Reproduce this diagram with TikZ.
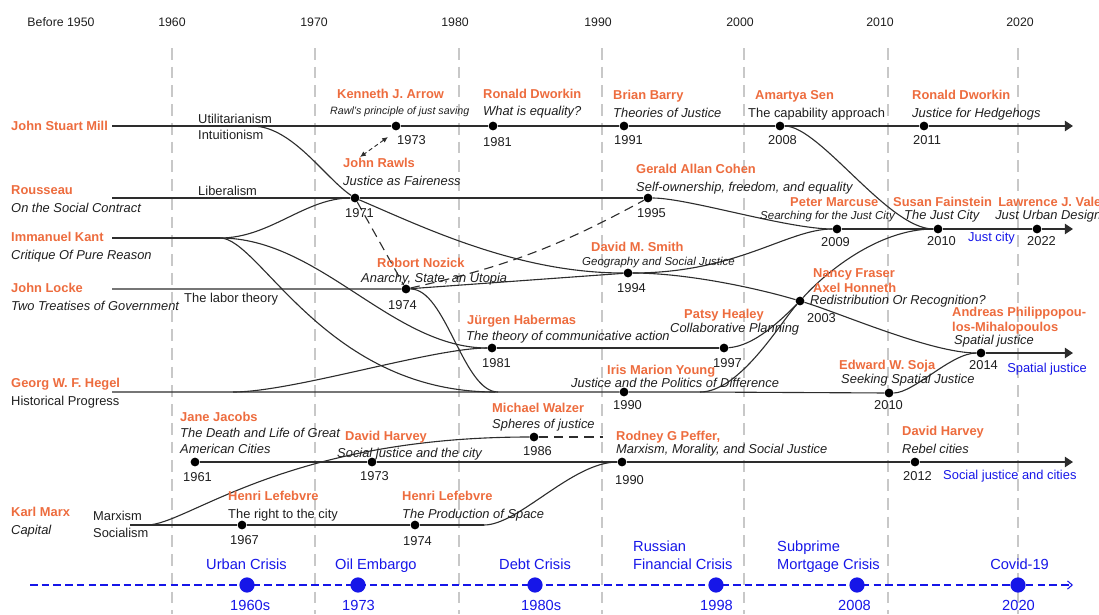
\documentclass[tikz,border=0pt]{standalone}
\usepackage{fontspec}
\setmainfont{Liberation Sans}
\usetikzlibrary{arrows.meta}
\definecolor{whoorange}{RGB}{237,108,62}
\definecolor{crisisblue}{RGB}{22,22,232}
\definecolor{inkgray}{RGB}{45,45,45}
\definecolor{gridgray}{RGB}{200,200,200}
\tikzset{
  dot/.style={circle, fill=black, minimum size=7.5pt, inner sep=0pt},
  bigdot/.style={circle, fill=crisisblue, minimum size=13pt, inner sep=0pt},
  txt/.style={anchor=west, inner sep=0pt, text depth=0pt, text height=7.9pt, text=black!88, font=\fontsize{11}{13}\selectfont},
  who/.style={txt, text=whoorange, font=\fontsize{11}{13}\selectfont\bfseries},
  work/.style={txt, font=\fontsize{11}{13}\selectfont\itshape},
  smallwork/.style={txt, text height=7pt, font=\fontsize{9.8}{12}\selectfont\itshape},
  tinywork/.style={txt, text height=6.5pt, font=\fontsize{9.1}{11}\selectfont\itshape},
  trend/.style={txt, text=crisisblue},
  crisis/.style={txt, text height=9pt, text=crisisblue, font=\fontsize{12.5}{15}\selectfont},
  decade/.style={inner sep=0pt, text=black!88, font=\fontsize{10.5}{12}\selectfont},
  tl/.style={draw=inkgray, line width=0.95pt},
  tlend/.style={tl, -{Triangle[length=7pt,width=9pt]}},
  gridline/.style={draw=gridgray, line width=2.2pt, dash pattern=on 10pt off 6pt},
  link/.style={tl, dash pattern=on 8pt off 5pt}
}
\begin{document}
\begin{tikzpicture}[x=0.03cm, y=-0.03cm]
  \useasboundingbox (0,0) rectangle (1099,614);

  % decades
  \foreach \x in {172,315,459,602,744,888,1018}
    \draw[gridline] (\x,48) -- (\x,614);
  \foreach \x/\t [count=\i] in {61/Before 1950,172/1960,314/1970,455/1980,598/1990,740/2000,880/2010,1020/2020}
    \node[decade] (dec\i) at (\x,22) {\t};

  % branch points and line ends
  \coordinate (millstart) at (112,126);
  \coordinate (millsplit) at (252,126);
  \coordinate (millend) at (1073,126);
  \coordinate (rousstart) at (112,198);
  \coordinate (kantstart) at (112,238);
  \coordinate (kantsplit) at (220,238);
  \coordinate (lockestart) at (112,289);
  \coordinate (hegelstart) at (112,392);
  \coordinate (hegelsplit) at (233,392);
  \coordinate (kantjoin) at (495,392);
  \coordinate (nozjoin) at (498,392);
  \coordinate (youngsplit) at (700,392);
  \coordinate (justend) at (1073,229);
  \coordinate (spatialend) at (1073,353);
  \coordinate (socialend) at (1073,462);
  \coordinate (marxstart) at (130,525);
  \coordinate (marxsplit) at (147,525);
  \coordinate (lefsplit) at (484,525);
  \coordinate (walzerend) at (603,437);
  \coordinate (kra) at (388,137);
  \coordinate (krb) at (360,157);
  \coordinate (crisisstart) at (30,585);
  \coordinate (crisisend) at (1073,585);

  % works
  \node[dot] (arrow73) at (396,126) {};
  \node[dot] (dworkin81) at (493,126) {};
  \node[dot] (barry91) at (624,126) {};
  \node[dot] (sen08) at (780,126) {};
  \node[dot] (dworkin11) at (924,126) {};
  \node[dot] (rawls71) at (355,198) {};
  \node[dot] (cohen95) at (648,198) {};
  \node[dot] (marcuse09) at (837,229) {};
  \node[dot] (fain10) at (938,229) {};
  \node[dot] (vale22) at (1037,229) {};
  \node[dot] (nozick74) at (406,289) {};
  \node[dot] (smith94) at (628,273) {};
  \node[dot] (fraser03) at (800,301) {};
  \node[dot] (haber81) at (492,348) {};
  \node[dot] (healey97) at (724,348) {};
  \node[dot] (andreas14) at (981,353) {};
  \node[dot] (young90) at (624,392) {};
  \node[dot] (soja10) at (889,393) {};
  \node[dot] (walzer86) at (534,437) {};
  \node[dot] (jacobs61) at (195,462) {};
  \node[dot] (harvey73) at (372,462) {};
  \node[dot] (peffer90) at (622,462) {};
  \node[dot] (harvey12) at (915,462) {};
  \node[dot] (lefebvre67) at (242,525) {};
  \node[dot] (lefebvre74) at (415,525) {};

  % straight lines
  \draw[tlend] (millstart) -- (millsplit) -- (arrow73) -- (dworkin81) -- (barry91) -- (sen08) -- (dworkin11) -- (millend);
  \draw[tl] (rousstart) -- (rawls71) -- (cohen95);
  \draw[tl] (kantstart) -- (kantsplit);
  \draw[tl] (lockestart) -- (nozick74) -- (smith94);
  \draw[tl] (haber81) -- (healey97);
  \draw[tl] (hegelstart) -- (hegelsplit) -- (young90) -- (youngsplit) -- (soja10);
  \draw[tlend] (marcuse09) -- (fain10) -- (vale22) -- (justend);
  \draw[tlend] (andreas14) -- (spatialend);
  \draw[tlend] (jacobs61) -- (harvey73) -- (peffer90) -- (harvey12) -- (socialend);
  \draw[tl] (marxstart) -- (marxsplit) -- (lefebvre67) -- (lefebvre74) -- (lefsplit);

  % influences
  \draw[tl] (millsplit) .. controls +(40,0) and +(-30,-20) .. (rawls71);
  \draw[tl] (rawls71) .. controls +(70,30) and +(-110,0) .. (smith94);
  \draw[tl] (kantsplit) .. controls +(50,0) and +(-50,0) .. (rawls71);
  \draw[tl] (kantsplit) .. controls +(100,0) and +(-100,0) .. (haber81);
  \draw[tl] (kantsplit) .. controls +(40,0) and +(-170,0) .. (kantjoin);
  \draw[tl] (hegelsplit) .. controls +(60,0) and +(-60,0) .. (haber81);
  \draw[tl] (nozick74) .. controls +(40,0) and +(-35,0) .. (nozjoin);
  \draw[tl] (cohen95) .. controls +(40,0) and +(-50,0) .. (marcuse09);
  \draw[tl] (smith94) .. controls +(110,0) and +(-50,0) .. (marcuse09);
  \draw[tl] (smith94) .. controls +(60,0) and +(-40,-12) .. (fraser03);
  \draw[tl] (fraser03) .. controls +(40,12) and +(-50,0) .. (andreas14);
  \draw[tl] (healey97) .. controls +(30,-2) and +(-20,20) .. (fraser03);
  \draw[tl] (youngsplit) .. controls +(40,0) and +(-20,22) .. (fraser03);
  \draw[tl] (fraser03) .. controls +(25,-28) and +(-60,0) .. (fain10);
  \draw[tl] (sen08) .. controls +(40,0) and +(-50,0) .. (fain10);
  \draw[tl] (soja10) .. controls +(25,0) and +(-30,0) .. (andreas14);
  \draw[tl] (lefsplit) .. controls +(35,0) and +(-50,0) .. (peffer90);
  \draw[tl] (marxsplit) .. controls +(40,0) and +(-250,0) .. (walzer86);
  \draw[link] (rawls71) -- (nozick74);
  \draw[link] (nozick74) to[bend right=8] (cohen95);
  \draw[link] (walzer86) -- (walzerend);
  \draw[tl, line width=0.8pt, dash pattern=on 3.5pt off 2.5pt, {Latex[length=5pt,width=4.5pt]}-{Latex[length=5pt,width=4.5pt]}] (kra) -- (krb);

  % thinkers
  \node[who] (millname) at (11,126) {John Stuart Mill};
  \node[who] (rousname) at (11,190) {Rousseau};
  \node[work] (rouswork) at (11,208) {On the Social Contract};
  \node[who] (kantname) at (11,237) {Immanuel Kant};
  \node[work] (kantwork) at (11,255) {Critique Of Pure Reason};
  \node[who] (lockename) at (11,288) {John Locke};
  \node[work] (lockework) at (11,306) {Two Treatises of Government};
  \node[who] (hegelname) at (11,383) {Georg W. F. Hegel};
  \node[txt] (hegelwork) at (11,401) {Historical Progress};
  \node[who] (marxname) at (11,512) {Karl Marx};
  \node[work] (marxwork) at (11,530) {Capital};
  \node[txt] (util) at (198,119) {Utilitarianism};
  \node[txt] (intu) at (198,135) {Intuitionism};
  \node[txt] (liber) at (198,191) {Liberalism};
  \node[txt] (labor) at (184,298) {The labor theory};
  \node[txt] (marxism) at (93,516) {Marxism};
  \node[txt] (social) at (93,533) {Socialism};

  \node[who] (arrowname) at (337,94) {Kenneth J. Arrow};
  \node[tinywork] (arrowwork) at (330,111) {Rawl's principle of just saving};
  \node[txt] (arrowyr) at (397,140) {1973};
  \node[who] (dw81name) at (483,94) {Ronald Dworkin};
  \node[work] (dw81work) at (483,111) {What is equality?};
  \node[txt] (dw81yr) at (483,142) {1981};
  \node[who] (barryname) at (613,95) {Brian Barry};
  \node[work] (barrywork) at (613,113) {Theories of Justice};
  \node[txt] (barryyr) at (614,140) {1991};
  \node[who] (senname) at (755,95) {Amartya Sen};
  \node[txt] (senwork) at (748,113) {The capability approach};
  \node[txt] (senyr) at (768,140) {2008};
  \node[who] (dw11name) at (912,95) {Ronald Dworkin};
  \node[work] (dw11work) at (912,113) {Justice for Hedgehogs};
  \node[txt] (dw11yr) at (913,140) {2011};
  \node[who] (rawlsname) at (343,163) {John Rawls};
  \node[work] (rawlswork) at (343,181) {Justice as Faireness};
  \node[txt] (rawlsyr) at (345,213) {1971};
  \node[who] (cohenname) at (636,169) {Gerald Allan Cohen};
  \node[work] (cohenwork) at (636,187) {Self-ownership, freedom, and equality};
  \node[txt] (cohenyr) at (637,213) {1995};
  \node[who] (marcname) at (790,202) {Peter Marcuse};
  \node[smallwork] (marcwork) at (760,215) {Searching for the Just City};
  \node[txt] (marcyr) at (821,242) {2009};
  \node[who] (fainname) at (893,202) {Susan Fainstein};
  \node[work] (fainwork) at (904,215) {The Just City};
  \node[txt] (fainyr) at (927,241) {2010};
  \node[who] (valename) at (998,202) {Lawrence J. Vale};
  \node[work] (valework) at (995,215) {Just Urban Design};
  \node[txt] (valeyr) at (1027,241) {2022};
  \node[trend] (justcity) at (968,237) {Just city};
  \node[who] (nozname) at (377,263) {Robort Nozick};
  \node[work] (nozwork) at (361,278) {Anarchy, State, an Utopia};
  \node[txt] (nozyr) at (388,305) {1974};
  \node[who] (smithname) at (591,247) {David M. Smith};
  \node[smallwork] (smithwork) at (582,261) {Geography and Social Justice};
  \node[txt] (smithyr) at (617,288) {1994};
  \node[who] (habername) at (467,320) {Jürgen Habermas};
  \node[work] (haberwork) at (466,336) {The theory of communicative action};
  \node[txt] (haberyr) at (482,363) {1981};
  \node[who] (healeyname) at (684,314) {Patsy Healey};
  \node[work] (healeywork) at (670,328) {Collaborative Planning};
  \node[txt] (healeyyr) at (713,363) {1997};
  \node[who] (frasername) at (813,273) {Nancy Fraser};
  \node[who] (honnethname) at (813,288) {Axel Honneth};
  \node[work] (fraserwork) at (810,300) {Redistribution Or Recognition?};
  \node[txt] (fraseryr) at (807,318) {2003};
  \node[who] (andreasname) at (952,312) {Andreas Philippopou-};
  \node[who] (andreasname2) at (952,327) {los-Mihalopoulos};
  \node[work] (andreaswork) at (954,340) {Spatial justice};
  \node[txt] (andreasyr) at (969,365) {2014};
  \node[trend] (spatial) at (1007,368) {Spatial justice};
  \node[who] (youngname) at (607,370) {Iris Marion Young};
  \node[work] (youngwork) at (571,383) {Justice and the Politics of Difference};
  \node[txt] (youngyr) at (613,405) {1990};
  \node[who] (sojaname) at (839,365) {Edward W. Soja};
  \node[work] (sojawork) at (841,379) {Seeking Spatial Justice};
  \node[txt] (sojayr) at (874,405) {2010};
  \node[who] (jacobsname) at (180,417) {Jane Jacobs};
  \node[work] (jacobswork) at (180,433) {The Death and Life of Great};
  \node[work] (jacobswork2) at (180,449) {American Cities};
  \node[txt] (jacobsyr) at (183,477) {1961};
  \node[who] (harv73name) at (345,436) {David Harvey};
  \node[work] (harv73work) at (337,453) {Social justice and the city};
  \node[txt] (harv73yr) at (360,476) {1973};
  \node[who] (walzername) at (492,408) {Michael Walzer};
  \node[work] (walzerwork) at (492,424) {Spheres of justice};
  \node[txt] (walzeryr) at (523,451) {1986};
  \node[who] (peffername) at (616,436) {Rodney G Peffer,};
  \node[work] (pefferwork) at (616,449) {Marxism, Morality, and Social Justice};
  \node[txt] (pefferyr) at (615,480) {1990};
  \node[who] (harv12name) at (902,431) {David Harvey};
  \node[work] (harv12work) at (902,449) {Rebel cities};
  \node[txt] (harv12yr) at (903,476) {2012};
  \node[trend] (socialcities) at (943,475) {Social justice and cities};
  \node[who] (lef67name) at (228,496) {Henri Lefebvre};
  \node[txt] (lef67work) at (228,514) {The right to the city};
  \node[txt] (lef67yr) at (230,540) {1967};
  \node[who] (lef74name) at (402,496) {Henri Lefebvre};
  \node[work] (lef74work) at (402,514) {The Production of Space};
  \node[txt] (lef74yr) at (403,541) {1974};

  % crises
  \draw[crisisblue, line width=0.9pt, dash pattern=on 6.5pt off 3.5pt, -{Straight Barb[length=4pt,width=7pt]}] (crisisstart) -- (crisisend);
  \foreach \x [count=\i] in {247,358,535,716,857,1018}
    \node[bigdot] (crisis\i) at (\x,585) {};
  \foreach \x/\y/\t [count=\i] in {206/564/Urban Crisis,335/564/Oil Embargo,499/564/Debt Crisis,633/546/Russian,633/564/Financial Crisis,777/546/Subprime,777/564/Mortgage Crisis,990/564/Covid-19}
    \node[crisis] (crisisname\i) at (\x,\y) {\t};
  \foreach \x/\t [count=\i] in {230/1960s,342/1973,521/1980s,700/1998,838/2008,1002/2020}
    \node[crisis] (crisisyr\i) at (\x,605) {\t};
\end{tikzpicture}
\end{document}
